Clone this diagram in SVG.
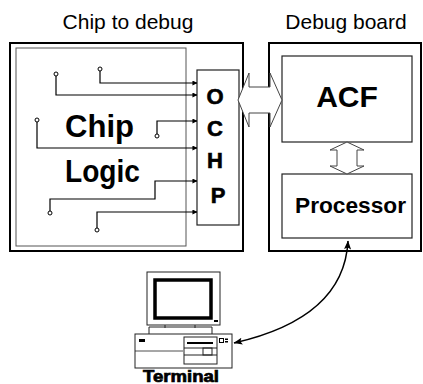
<svg xmlns="http://www.w3.org/2000/svg" width="423" height="384" viewBox="0 0 423 384">
  <style>
    .title { font-family: "Liberation Sans", Arial, sans-serif; font-size: 21px; fill: #000; }
    .bold { font-family: "Liberation Sans", Arial, sans-serif; font-weight: bold; fill: #000; }
    .box { fill: #fff; stroke: #000; stroke-width: 2; }
    .thin { fill: #fff; stroke: #222; stroke-width: 1.2; }
    .wire { fill: none; stroke: #000; stroke-width: 1.2; }
    .pin { fill: #fff; stroke: #000; stroke-width: 1; }
    .bus { fill: #fff; stroke: #444; stroke-width: 1; stroke-linejoin: miter; }
  </style>
  <defs>
    <marker id="tip" viewBox="0 0 6 6" refX="5.5" refY="3" markerWidth="5" markerHeight="5" orient="auto" markerUnits="userSpaceOnUse">
      <path d="M0,0 L6,3 L0,6 Z" fill="#000"/>
    </marker>
    <marker id="link" viewBox="0 0 10 8" refX="9.5" refY="4" markerWidth="9" markerHeight="7" orient="auto-start-reverse" markerUnits="userSpaceOnUse">
      <path d="M0,0 L10,4 L0,8 L2,4 Z" fill="#000"/>
    </marker>
  </defs>

  <!-- headings -->
  <text class="title" x="128" y="29" text-anchor="middle">Chip to debug</text>
  <text class="title" x="346" y="29" text-anchor="middle">Debug board</text>

  <!-- chip under debug -->
  <g id="chip">
    <rect class="box" x="10" y="43" width="233" height="208"/>
    <rect x="16" y="48" width="170" height="198" fill="none" stroke="#555" stroke-width="1"/>
    <text class="bold" x="65" y="137" font-size="31" textLength="69" lengthAdjust="spacingAndGlyphs">Chip</text>
    <text class="bold" x="65" y="182" font-size="31" textLength="75" lengthAdjust="spacingAndGlyphs">Logic</text>
  </g>

  <!-- on-chip debug port -->
  <g id="ochp">
    <rect class="thin" x="197" y="70" width="42" height="155"/>
    <text class="bold" font-size="22" text-anchor="middle" stroke="#000" stroke-width="0.6">
      <tspan x="218" y="104">O</tspan>
      <tspan x="218" y="136">C</tspan>
      <tspan x="218" y="168">H</tspan>
      <tspan x="218" y="203">P</tspan>
    </text>
  </g>

  <!-- debug board -->
  <g id="board">
    <rect class="box" x="269" y="43" width="152" height="208"/>
  </g>
  <g id="acf">
    <rect class="thin" x="282" y="56" width="130" height="86"/>
    <text class="bold" x="347" y="107" font-size="30" text-anchor="middle">ACF</text>
  </g>
  <g id="processor">
    <rect class="thin" x="282" y="174" width="130" height="64"/>
    <text class="bold" x="295" y="213" font-size="22" textLength="111" lengthAdjust="spacingAndGlyphs">Processor</text>
  </g>

  <!-- host terminal -->
  <g id="terminal">
    <rect x="147" y="272" width="73" height="53" fill="#fff" stroke="#222" stroke-width="1"/>
    <rect x="155" y="280" width="56" height="38" fill="#fff" stroke="#000" stroke-width="3.5"/>
    <rect x="214" y="320" width="4" height="2" fill="#000"/>
    <path d="M149,334 V327 H212 V334 M165,325 V328 M195,325 V328" fill="none" stroke="#222" stroke-width="1"/>
    <rect x="135" y="334" width="97" height="34" fill="#fff" stroke="#222" stroke-width="1"/>
    <rect x="139" y="339" width="6" height="3" fill="#000"/>
    <path d="M135,351 H183" fill="none" stroke="#222" stroke-width="0.8"/>
    <rect x="184" y="337" width="33" height="27" fill="none" stroke="#222" stroke-width="1"/>
    <path d="M187,343 H213" stroke="#000" stroke-width="2"/>
    <path d="M184,348 H217 M184,355 H217" stroke="#222" stroke-width="1"/>
    <rect x="203" y="348" width="9" height="7" fill="none" stroke="#222" stroke-width="1"/>
    <rect x="219.5" y="338.5" width="4" height="4" fill="none" stroke="#000" stroke-width="1"/>
    <rect x="225" y="338.5" width="3" height="1.5" fill="#000"/>
    <rect x="225" y="341" width="3" height="1.5" fill="#000"/>
    <text class="bold" x="181" y="382" font-size="16" text-anchor="middle" stroke="#000" stroke-width="0.7" textLength="76" lengthAdjust="spacingAndGlyphs">Terminal</text>
  </g>

  <!-- connectors -->
  <g id="connectors">
    <g class="wires">
      <path class="wire" d="M100,71 V83 H197" marker-end="url(#tip)"/>
      <path class="wire" d="M56,76 V95 H197" marker-end="url(#tip)"/>
      <path class="wire" d="M157,134 V121 H197" marker-end="url(#tip)"/>
      <path class="wire" d="M37,122 V148 H197" marker-end="url(#tip)"/>
      <path class="wire" d="M50,211 V199 H155 V181 H197" marker-end="url(#tip)"/>
      <path class="wire" d="M97,228 V212 H197" marker-end="url(#tip)"/>
      <circle class="pin" cx="100" cy="69" r="2"/>
      <circle class="pin" cx="56" cy="74" r="2"/>
      <circle class="pin" cx="157" cy="136" r="2"/>
      <circle class="pin" cx="37" cy="120" r="2"/>
      <circle class="pin" cx="50" cy="213" r="2"/>
      <circle class="pin" cx="97" cy="230" r="2"/>
    </g>
    <polygon class="bus" points="238,100 249,73 249,87 270,87 270,73 282,100 270,127 270,113 249,113 249,127"/>
    <polygon class="bus" points="347,142 364,150 357,150 357,166 364,166 347,174 330,166 337,166 337,150 330,150"/>
    <path d="M234,343 Q344,318 348,241" fill="none" stroke="#000" stroke-width="1.5" marker-start="url(#link)" marker-end="url(#link)"/>
  </g>
</svg>
